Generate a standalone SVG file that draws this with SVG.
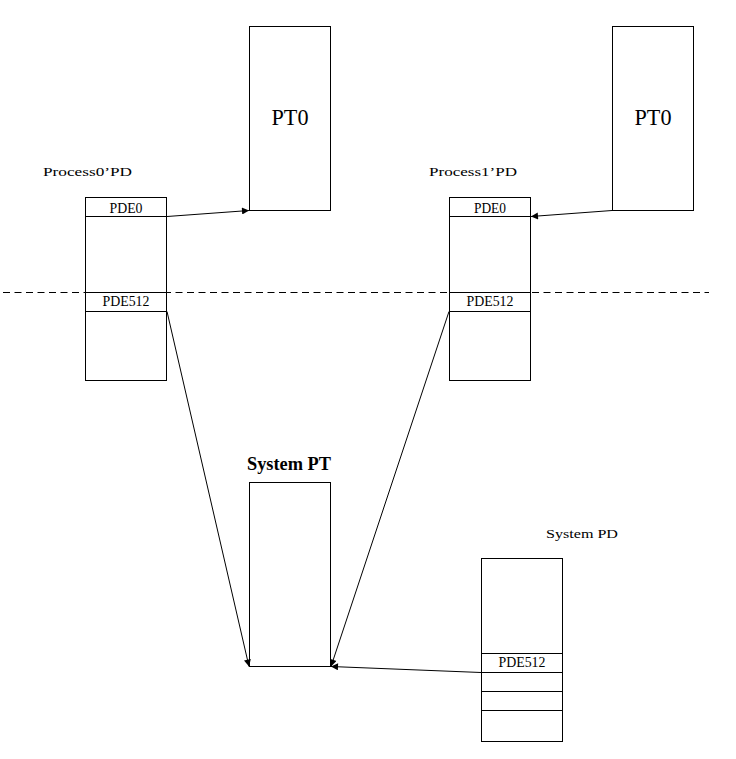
<svg xmlns="http://www.w3.org/2000/svg" width="736" height="759" viewBox="0 0 736 759">
<style>
.box{fill:#fff;stroke:#000;stroke-width:1}
.ln{stroke:#000;stroke-width:1;fill:none}
.con{stroke:#000;stroke-width:1;fill:none;marker-end:url(#ah)}
text{font-family:"Liberation Serif","Noto Sans CJK SC",serif;fill:#000}
.cell{font-size:14.5px;text-anchor:middle}
.lab{font-size:13.5px}
.big{font-size:22.5px;text-anchor:middle}
</style>
<defs>
<marker id="ah" viewBox="0 0 10 10" refX="10" refY="5" markerWidth="9" markerHeight="7" markerUnits="userSpaceOnUse" orient="auto">
<path d="M0,0 L10,5 L0,10 z" fill="#000"/>
</marker>
</defs>
<rect width="736" height="759" fill="#fff"/>
<g id="divider">
<line x1="3" y1="292.5" x2="709" y2="292.5" stroke="#000" stroke-width="1" stroke-dasharray="7 4.5"/>
</g>
<g id="pt0-left">
<rect class="box" x="249.5" y="26.5" width="81" height="184"/>
<text class="big" x="290" y="125" textLength="37" lengthAdjust="spacingAndGlyphs">PT0</text>
</g>
<g id="pt0-right">
<rect class="box" x="612.5" y="26.5" width="81" height="184"/>
<text class="big" x="653" y="125" textLength="37" lengthAdjust="spacingAndGlyphs">PT0</text>
</g>
<g id="process0-pd">
<text class="lab" x="43" y="176" textLength="89" lengthAdjust="spacingAndGlyphs">Process0’PD</text>
<rect class="box" x="85.5" y="197.5" width="81" height="183"/>
<line class="ln" x1="85.5" y1="216.5" x2="166.5" y2="216.5"/>
<line class="ln" x1="85.5" y1="292.5" x2="166.5" y2="292.5"/>
<line class="ln" x1="85.5" y1="311.5" x2="166.5" y2="311.5"/>
<text class="cell" x="126" y="213" textLength="33" lengthAdjust="spacingAndGlyphs">PDE0</text>
<text class="cell" x="126" y="305.5" textLength="47" lengthAdjust="spacingAndGlyphs">PDE512</text>
</g>
<g id="process1-pd">
<text class="lab" x="429" y="176" textLength="88" lengthAdjust="spacingAndGlyphs">Process1’PD</text>
<rect class="box" x="449.5" y="197.5" width="81" height="183"/>
<line class="ln" x1="449.5" y1="216.5" x2="530.5" y2="216.5"/>
<line class="ln" x1="449.5" y1="292.5" x2="530.5" y2="292.5"/>
<line class="ln" x1="449.5" y1="311.5" x2="530.5" y2="311.5"/>
<text class="cell" x="490" y="213" textLength="32" lengthAdjust="spacingAndGlyphs">PDE0</text>
<text class="cell" x="490" y="305.5" textLength="47" lengthAdjust="spacingAndGlyphs">PDE512</text>
</g>
<g id="system-pt">
<text x="247" y="470" font-size="19" font-weight="bold" textLength="84" lengthAdjust="spacingAndGlyphs">System PT</text>
<rect class="box" x="249.5" y="482.5" width="81" height="184"/>
</g>
<g id="system-pd">
<text class="lab" x="546" y="537.5" textLength="72" lengthAdjust="spacingAndGlyphs">System PD</text>
<rect class="box" x="481.5" y="558.5" width="81" height="183"/>
<line class="ln" x1="481.5" y1="653.5" x2="562.5" y2="653.5"/>
<line class="ln" x1="481.5" y1="672.5" x2="562.5" y2="672.5"/>
<line class="ln" x1="481.5" y1="691.5" x2="562.5" y2="691.5"/>
<line class="ln" x1="481.5" y1="710.5" x2="562.5" y2="710.5"/>
<text class="cell" x="522" y="667" textLength="47" lengthAdjust="spacingAndGlyphs">PDE512</text>
</g>
<g id="connectors">
<line class="con" x1="167" y1="216.5" x2="249" y2="210.5"/>
<line class="con" x1="612" y1="210.5" x2="531" y2="216.5"/>
<line class="con" x1="167" y1="311.5" x2="249" y2="666.5"/>
<line class="con" x1="449" y1="311.5" x2="331" y2="666.5"/>
<line class="con" x1="481" y1="672.5" x2="331" y2="666.5"/>
</g>
</svg>
